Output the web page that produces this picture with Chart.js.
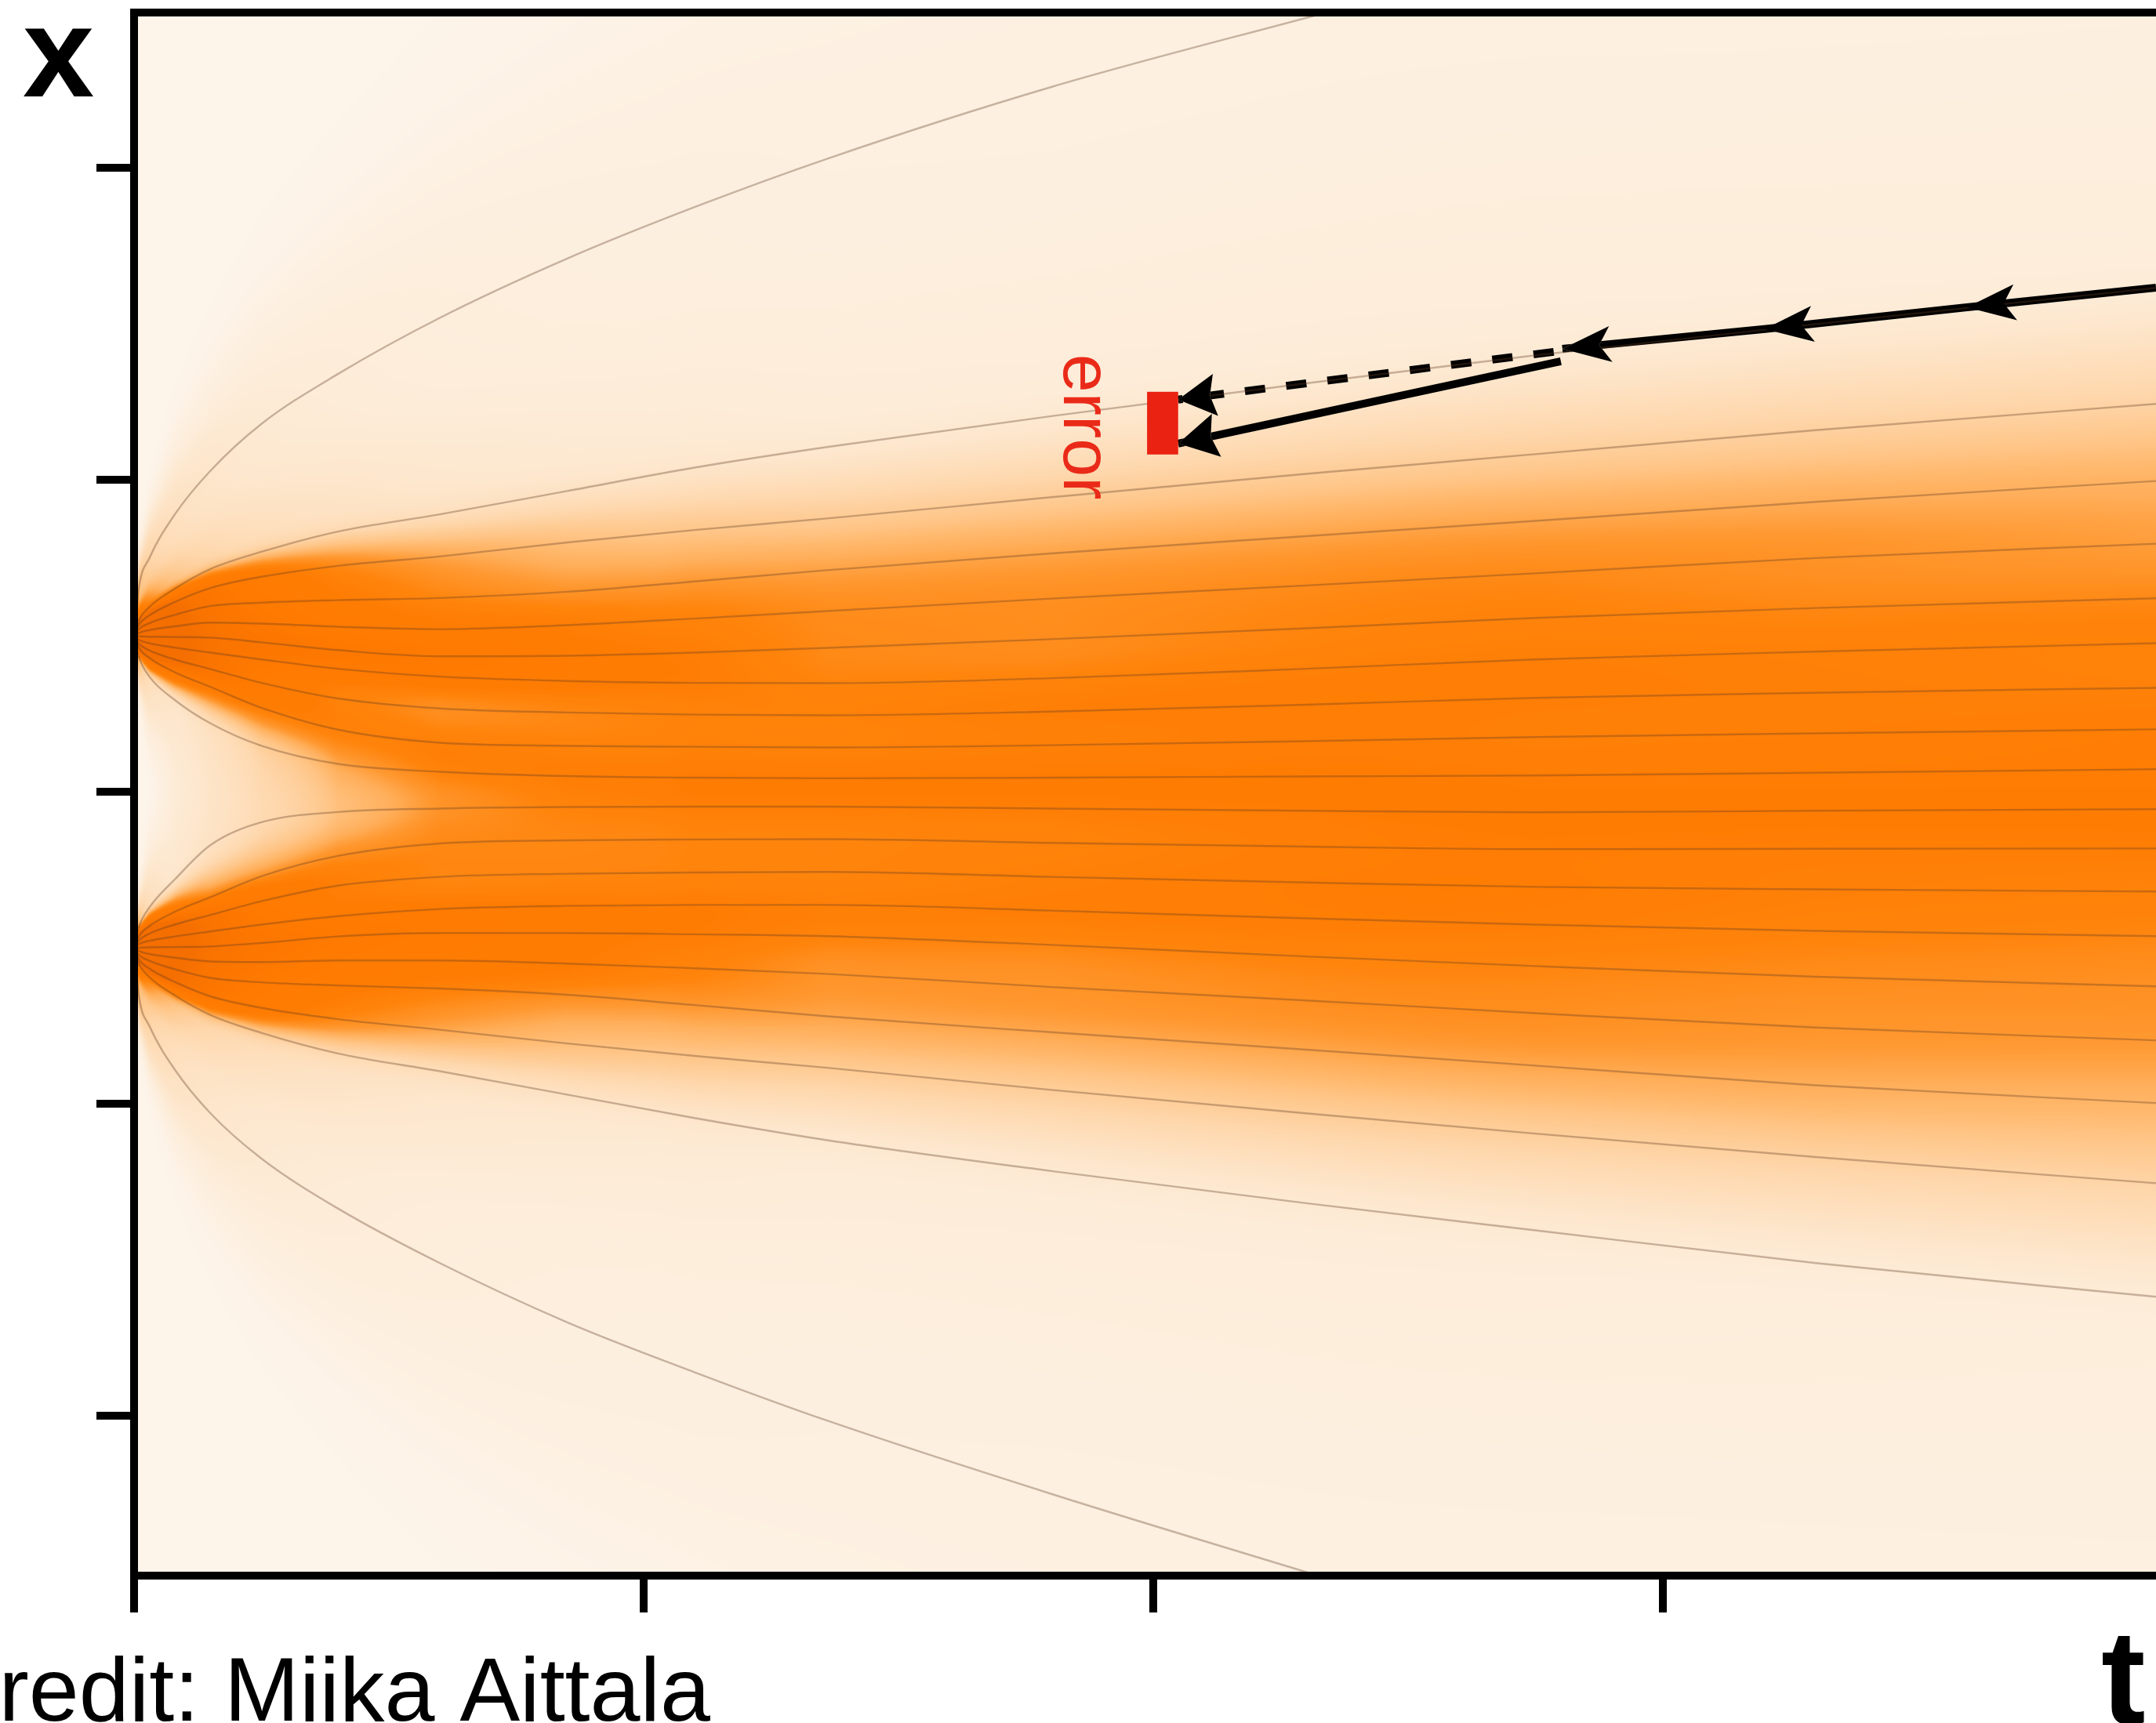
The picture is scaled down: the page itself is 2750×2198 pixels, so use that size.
<!DOCTYPE html>
<html>
<head>
<meta charset="utf-8">
<script src="https://cdn.jsdelivr.net/npm/chart.js@4.4.1/dist/chart.umd.min.js"></script>
<style>
html,body{margin:0;padding:0;background:#ffffff;overflow:hidden}
canvas{display:block}
</style>
</head>
<body>
<canvas id="c" width="2750" height="2198"></canvas>
<script>
// ---------------- data ----------------
// time samples (t axis) shared by the inner trajectories
const tSamples = [0, 0.01, 0.03, 0.08, 0.15, 0.25, 0.4, 0.6, 0.85, 1.1, 1.36, 1.8, 2.3, 2.75, 3.3, 3.968];

// outer (envelope) trajectories leave the plot, so they carry their own t samples
const upperEnvT = [0, 0.01, 0.03, 0.08, 0.15, 0.25, 0.4, 0.6, 0.85, 1.1, 1.36, 1.8, 2.342];
const upperEnvelope = [0.5, 0.66, 0.75, 0.89, 1.03, 1.18, 1.34, 1.52, 1.71, 1.875, 2.03, 2.26, 2.5];
const lowerEnvT = [0, 0.01, 0.03, 0.08, 0.15, 0.25, 0.4, 0.6, 0.85, 1.1, 1.36, 1.8, 2.323];
const lowerEnvelope = [-0.5, -0.66, -0.75, -0.89, -1.03, -1.175, -1.335, -1.51, -1.7, -1.86, -2.015, -2.25, -2.512];

// trajectories from the upper mode (x = +0.5)
const U1 = [0.5, 0.552, 0.593, 0.652, 0.715, 0.77, 0.835, 0.89, 0.965, 1.04, 1.106, 1.205, 1.31, 1.40, 1.50, 1.616];
const U2 = [0.5, 0.537, 0.566, 0.609, 0.654, 0.69, 0.725, 0.755, 0.80, 0.84, 0.877, 0.945, 1.02, 1.083, 1.16, 1.244];
const U3 = [0.5, 0.523, 0.541, 0.568, 0.596, 0.607, 0.615, 0.622, 0.642, 0.675, 0.711, 0.765, 0.82, 0.869, 0.93, 0.997];
const U4 = [0.5, 0.51, 0.519, 0.531, 0.543, 0.54, 0.53, 0.522, 0.535, 0.556, 0.58, 0.62, 0.662, 0.701, 0.75, 0.796];
const U5 = [0.5, 0.499, 0.498, 0.497, 0.495, 0.48, 0.455, 0.435, 0.437, 0.447, 0.462, 0.49, 0.525, 0.558, 0.59, 0.621];
const U6 = [0.5, 0.487, 0.477, 0.463, 0.447, 0.425, 0.395, 0.37, 0.356, 0.35, 0.349, 0.365, 0.395, 0.425, 0.45, 0.477];
const U7 = [0.5, 0.475, 0.454, 0.425, 0.394, 0.35, 0.30, 0.268, 0.255, 0.248, 0.246, 0.258, 0.28, 0.302, 0.318, 0.334];
const U8 = [0.5, 0.461, 0.43, 0.384, 0.337, 0.27, 0.20, 0.158, 0.148, 0.145, 0.143, 0.15, 0.163, 0.176, 0.188, 0.201];
const U9 = [0.5, 0.43, 0.37, 0.295, 0.22, 0.148, 0.09, 0.065, 0.051, 0.046, 0.044, 0.046, 0.05, 0.053, 0.062, 0.073];

// trajectories from the lower mode (x = -0.5)
const L1 = [-0.5, -0.43, -0.37, -0.28, -0.17, -0.097, -0.064, -0.053, -0.048, -0.047, -0.047, -0.053, -0.06, -0.065, -0.06, -0.055];
const L2 = [-0.5, -0.461, -0.43, -0.384, -0.337, -0.27, -0.205, -0.165, -0.155, -0.152, -0.151, -0.163, -0.175, -0.183, -0.182, -0.181];
const L3 = [-0.5, -0.475, -0.454, -0.425, -0.394, -0.35, -0.30, -0.272, -0.262, -0.258, -0.256, -0.272, -0.29, -0.304, -0.312, -0.319];
const L4 = [-0.5, -0.487, -0.477, -0.463, -0.447, -0.425, -0.398, -0.375, -0.365, -0.362, -0.362, -0.38, -0.405, -0.425, -0.445, -0.462];
const L5 = [-0.5, -0.499, -0.498, -0.497, -0.495, -0.484, -0.463, -0.452, -0.452, -0.456, -0.462, -0.49, -0.527, -0.558, -0.592, -0.623];
const L6 = [-0.5, -0.51, -0.519, -0.531, -0.543, -0.545, -0.54, -0.54, -0.55, -0.565, -0.583, -0.625, -0.668, -0.709, -0.755, -0.796];
const L7 = [-0.5, -0.523, -0.541, -0.568, -0.596, -0.61, -0.62, -0.63, -0.65, -0.683, -0.719, -0.77, -0.826, -0.877, -0.94, -0.997];
const L8 = [-0.5, -0.537, -0.566, -0.609, -0.655, -0.692, -0.728, -0.762, -0.806, -0.846, -0.884, -0.955, -1.03, -1.095, -1.17, -1.254];
const L9 = [-0.5, -0.552, -0.593, -0.652, -0.715, -0.772, -0.838, -0.895, -0.97, -1.045, -1.116, -1.215, -1.318, -1.405, -1.51, -1.618];

// sampler steps drawn as black arrows (travelling towards t = 0)
const stepArrowT = [3.968, 3.597, 3.2, 2.803];
const stepArrowX = [1.617, 1.554, 1.484, 1.421];
const exactStepT = [2.786, 2.049];      // dashed: follows the true trajectory
const exactStepX = [1.411, 1.258];
const eulerStepT = [2.8, 2.049];        // solid: straight (Euler) step
const eulerStepX = [1.381, 1.117];
const errorBoxT = [1.988, 2.049];
const errorBoxX = [1.082, 1.283];

const xTickValues = [0, 1, 2, 3];
const yTickValues = [-2, -1, 0, 1, 2];
const tMax = 3.968;
const xMin = -2.512, xMax = 2.5;

// ---------------- assembly ----------------
const trajectories = [
  {t: upperEnvT, v: upperEnvelope},
  {t: tSamples, v: U1}, {t: tSamples, v: U2}, {t: tSamples, v: U3}, {t: tSamples, v: U4},
  {t: tSamples, v: U5}, {t: tSamples, v: U6}, {t: tSamples, v: U7}, {t: tSamples, v: U8}, {t: tSamples, v: U9},
  {t: tSamples, v: L1}, {t: tSamples, v: L2}, {t: tSamples, v: L3}, {t: tSamples, v: L4},
  {t: tSamples, v: L5}, {t: tSamples, v: L6}, {t: tSamples, v: L7}, {t: tSamples, v: L8}, {t: tSamples, v: L9},
  {t: lowerEnvT, v: lowerEnvelope}
];
const toXY = (ts, vs) => ts.map((t, i) => ({x: t, y: vs[i]}));

const LINE_COLOR = 'rgba(95,60,35,0.34)';
const datasets = trajectories.map(tr => ({
  data: toXY(tr.t, tr.v),
  borderColor: LINE_COLOR, borderWidth: 2.4, pointRadius: 0,
  cubicInterpolationMode: 'monotone', fill: false
}));
datasets.push({
  data: toXY(stepArrowT, stepArrowX), borderColor: '#000', borderWidth: 10, pointRadius: 0,
  tension: 0, fill: false, arrow: {len: 62, half: 23, notch: 0.76, all: true}
});
datasets.push({
  data: toXY(exactStepT, exactStepX), borderColor: '#000', borderWidth: 10, pointRadius: 0,
  borderDash: [26, 27], borderCapStyle: 'butt', tension: 0, fill: false,
  arrow: {len: 48, half: 27, notch: 0.85, all: false}
});
datasets.push({
  data: toXY(eulerStepT, eulerStepX), borderColor: '#000', borderWidth: 10, pointRadius: 0,
  tension: 0, fill: false, arrow: {len: 50, half: 28, notch: 0.85, all: false}
});

// ---------------- heat map derived from the trajectory lines ----------------
function interp(ts, vs, t) {
  const n = ts.length;
  if (t <= ts[0]) return vs[0];
  if (t >= ts[n - 1]) {
    const s = (vs[n - 1] - vs[n - 2]) / (ts[n - 1] - ts[n - 2]);
    return vs[n - 1] + s * (t - ts[n - 1]);
  }
  let k = 1;
  while (ts[k] < t) k++;
  const f = (t - ts[k - 1]) / (ts[k] - ts[k - 1]);
  return vs[k - 1] + f * (vs[k] - vs[k - 1]);
}
// colour ramp (style) and relative-density -> shade mapping
const rampStops = [
  [0.00, 253, 244, 234],
  [0.12, 253, 235, 214],
  [0.28, 254, 214, 170],
  [0.45, 255, 184, 108],
  [0.62, 255, 153, 50],
  [0.78, 255, 132, 12],
  [0.90, 255, 122, 0],
  [1.00, 244, 110, 0]
];
const shadeCurve = [[0, 0], [0.05, 0.045], [0.15, 0.13], [0.34, 0.25], [0.52, 0.38], [0.64, 0.5], [0.73, 0.63], [0.85, 0.77], [1, 0.88]];
const DENSITY_CAP = 0.55;
function lerpTable(tab, x) {
  if (x <= tab[0][0]) return tab[0].slice(1);
  for (let i = 1; i < tab.length; i++) {
    if (x <= tab[i][0]) {
      const a = tab[i - 1], b = tab[i], f = (x - a[0]) / (b[0] - a[0]);
      return a.slice(1).map((v, k) => v + f * (b[k + 1] - v));
    }
  }
  return tab[tab.length - 1].slice(1);
}
const LUT = [];
for (let i = 0; i <= 1000; i++) LUT.push(lerpTable(rampStops, i / 1000));

function buildHeat(chart) {
  const a = chart.chartArea, xs = chart.scales.x, ys = chart.scales.y;
  const cell = 2;
  const W = Math.ceil((a.right - a.left) / cell), H = Math.ceil((a.bottom - a.top) / cell);
  const off = document.createElement('canvas');
  off.width = W; off.height = H;
  const octx = off.getContext('2d');
  const img = octx.createImageData(W, H);
  const n = trajectories.length;
  const mass = 1 / n;
  const vRow = new Float64Array(H);
  for (let j = 0; j < H; j++) vRow[j] = ys.getValueForPixel(a.top + (j + 0.5) * (a.bottom - a.top) / H);
  const pos = new Float64Array(n), sig = new Float64Array(n), amp = new Float64Array(n);
  const col = new Float64Array(H);
  for (let i = 0; i < W; i++) {
    const t = xs.getValueForPixel(a.left + (i + 0.5) * (a.right - a.left) / W);
    for (let k = 0; k < n; k++) pos[k] = interp(trajectories[k].t, trajectories[k].v, t);
    for (let k = 0; k < n; k++) {
      const g = [];
      if (k > 0) g.push(Math.abs(pos[k - 1] - pos[k]));
      if (k < n - 1) g.push(Math.abs(pos[k] - pos[k + 1]));
      const mn = Math.min(...g), mx = Math.max(...g);
      const h = mn + 0.5 * Math.min(mx - mn, 5 * mn);
      sig[k] = Math.max(0.62 * h, 0.009);
      amp[k] = mass / (sig[k] * 2.5066);
    }
    let dmax = 0;
    for (let j = 0; j < H; j++) {
      const v = vRow[j];
      let d = 0;
      for (let k = 0; k < n; k++) {
        const z = (v - pos[k]) / sig[k];
        const z2 = z * z;
        if (z2 < 50) d += amp[k] * Math.exp(-0.5 * z2);
      }
      col[j] = d;
      if (d > dmax) dmax = d;
    }
    const dref = Math.min(dmax, DENSITY_CAP);
    for (let j = 0; j < H; j++) {
      const d = col[j];
      let s = lerpTable(shadeCurve, d / dref)[0];
      s += 0.12 * Math.min(1, Math.max(0, (d - 0.6) / 0.8));
      const c = LUT[Math.min(1000, Math.max(0, Math.round(s * 1000)))];
      const idx = (j * W + i) * 4;
      img.data[idx] = c[0]; img.data[idx + 1] = c[1]; img.data[idx + 2] = c[2]; img.data[idx + 3] = 255;
    }
  }
  octx.putImageData(img, 0, 0);
  return off;
}

const heatPlugin = {
  id: 'heat',
  beforeDatasetsDraw(chart) {
    const a = chart.chartArea, ctx = chart.ctx;
    if (!chart.$heat) chart.$heat = buildHeat(chart);
    ctx.save();
    ctx.beginPath();
    ctx.rect(a.left, a.top, a.right - a.left, a.bottom - a.top);
    ctx.clip();
    ctx.imageSmoothingEnabled = true;
    ctx.imageSmoothingQuality = 'high';
    ctx.drawImage(chart.$heat, a.left, a.top, a.right - a.left, a.bottom - a.top);
    ctx.restore();
  }
};

// ---------------- arrows, error box, labels ----------------
function headPoly(p0, p1, o) {
  const dx = p1.x - p0.x, dy = p1.y - p0.y, L = Math.hypot(dx, dy) || 1;
  const ux = dx / L, uy = dy / L, nx = -uy, ny = ux;
  const bx = p1.x - ux * o.len, by = p1.y - uy * o.len;
  return [
    [p1.x, p1.y],
    [bx + nx * o.half, by + ny * o.half],
    [p1.x - ux * o.len * o.notch, p1.y - uy * o.len * o.notch],
    [bx - nx * o.half, by - ny * o.half]
  ];
}
const arrowPlugin = {
  id: 'arrows',
  beforeDatasetDraw(chart, args) {
    const ds = chart.data.datasets[args.index];
    if (!ds.arrow) return;
    const pts = args.meta.data, n = pts.length;
    const poly = headPoly(pts[n - 2], pts[n - 1], ds.arrow);
    const ctx = chart.ctx;
    ctx.save();
    ctx.beginPath();
    ctx.rect(0, 0, chart.width, chart.height);
    ctx.moveTo(poly[0][0], poly[0][1]);
    for (let i = 1; i < poly.length; i++) ctx.lineTo(poly[i][0], poly[i][1]);
    ctx.closePath();
    ctx.clip('evenodd');
  },
  afterDatasetDraw(chart, args) {
    const ds = chart.data.datasets[args.index];
    if (!ds.arrow) return;
    chart.ctx.restore();
  },
  afterDatasetsDraw(chart) {
    const ctx = chart.ctx, xs = chart.scales.x, ys = chart.scales.y;
    const bx0 = xs.getPixelForValue(errorBoxT[0]), bx1 = xs.getPixelForValue(errorBoxT[1]);
    const by0 = ys.getPixelForValue(errorBoxX[1]), by1 = ys.getPixelForValue(errorBoxX[0]);
    ctx.save();
    ctx.fillStyle = '#ea2212';
    ctx.fillRect(bx0, by0, bx1 - bx0, by1 - by0);
    ctx.translate(bx0 - 106, by0 - 48);
    ctx.rotate(Math.PI / 2);
    ctx.fillStyle = '#ea2a18';
    ctx.font = '88px "Liberation Sans", Arial, sans-serif';
    ctx.textAlign = 'left';
    ctx.textBaseline = 'alphabetic';
    ctx.fillText('error', 0, 0);
    ctx.restore();
    chart.data.datasets.forEach((ds, i) => {
      if (!ds.arrow) return;
      const pts = chart.getDatasetMeta(i).data;
      const from = ds.arrow.all ? 1 : pts.length - 1;
      ctx.save();
      ctx.fillStyle = '#000';
      for (let k = from; k < pts.length; k++) {
        const poly = headPoly(pts[k - 1], pts[k], ds.arrow);
        ctx.beginPath();
        ctx.moveTo(poly[0][0], poly[0][1]);
        for (let m = 1; m < poly.length; m++) ctx.lineTo(poly[m][0], poly[m][1]);
        ctx.closePath();
        ctx.fill();
      }
      ctx.restore();
    });
  },
  afterDraw(chart) {
    const ctx = chart.ctx;
    ctx.save();
    ctx.fillStyle = '#000';
    ctx.textBaseline = 'alphabetic';
    ctx.textAlign = 'left';
    ctx.font = 'bold 164px "Liberation Sans", Arial, sans-serif';
    ctx.fillText('x', 29, 123);
    ctx.font = 'bold 170px "Liberation Sans", Arial, sans-serif';
    ctx.fillText('t', 2680, 2199);
    ctx.font = '115px "Liberation Sans", Arial, sans-serif';
    ctx.fillText('credit: Miika Aittala', -59, 2195);
    ctx.restore();
  }
};

const axisCommon = {
  type: 'linear',
  ticks: {display: false},
  border: {display: true, width: 10, color: '#000', z: 1}
};

new Chart(document.getElementById('c'), {
  type: 'line',
  data: {datasets},
  plugins: [heatPlugin, arrowPlugin],
  options: {
    responsive: false,
    devicePixelRatio: 1,
    animation: false,
    events: [],
    layout: {padding: {left: 123, right: 0, top: 15.5, bottom: 141}},
    plugins: {legend: {display: false}, tooltip: {enabled: false}, title: {display: false}},
    scales: {
      x: Object.assign({}, axisCommon, {
        position: 'bottom', min: 0, max: tMax,
        afterBuildTicks: s => { s.ticks = xTickValues.map(v => ({value: v})); },
        grid: {display: true, drawOnChartArea: false, drawTicks: true, tickLength: 47, tickWidth: 10, lineWidth: 10, color: '#000', tickColor: '#000'}
      }),
      xTop: Object.assign({}, axisCommon, {
        position: 'top', min: 0, max: tMax,
        grid: {display: false, drawTicks: false, tickLength: 0}
      }),
      y: Object.assign({}, axisCommon, {
        position: 'left', min: xMin, max: xMax,
        afterBuildTicks: s => { s.ticks = yTickValues.map(v => ({value: v})); },
        grid: {display: true, drawOnChartArea: false, drawTicks: true, tickLength: 48, tickWidth: 10, lineWidth: 10, color: '#000', tickColor: '#000'}
      })
    }
  }
});
</script>
</body>
</html>
